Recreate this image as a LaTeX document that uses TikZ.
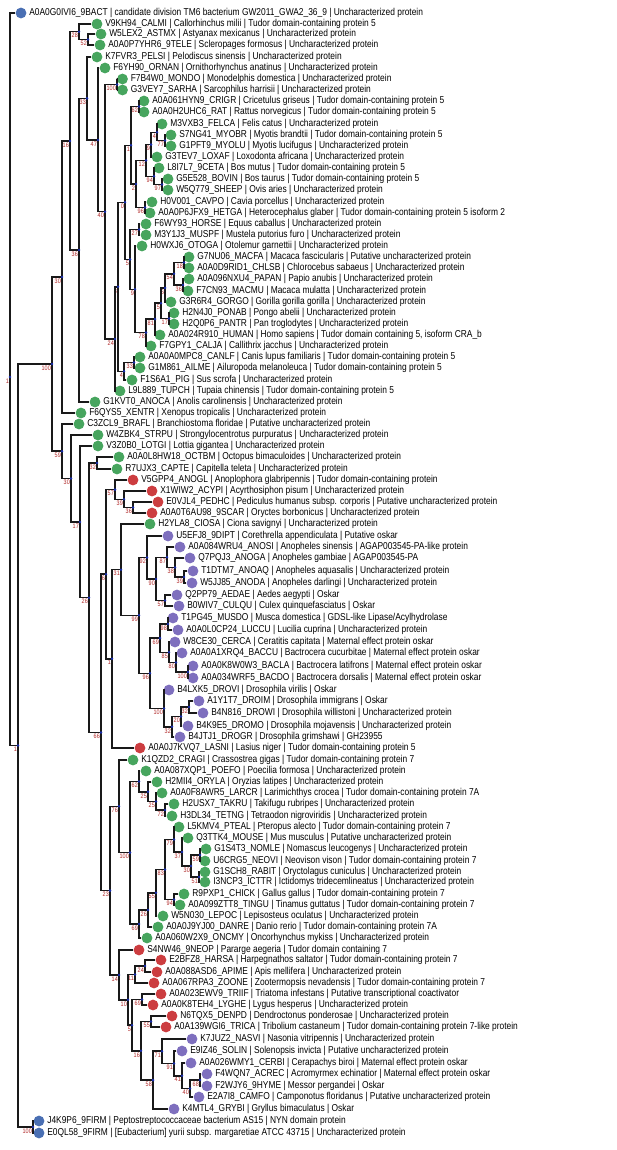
\documentclass[tikz,border=0pt]{standalone}
\usepackage{fontspec}
\setmainfont{Liberation Sans}[FakeStretch=0.84]
\definecolor{tdgreen}{HTML}{47A55E}
\definecolor{tdred}{HTML}{CC3D40}
\definecolor{oskpurple}{HTML}{7E6FBE}
\definecolor{bactblue}{HTML}{4A6FB3}
\definecolor{supred}{HTML}{B02828}
\definecolor{nodeblue}{HTML}{1A2FB0}
\newcommand{\leafnode}[5]{\node[leafdot,fill=#4] (#1) at (#2,#3) {};
  \node[leaftext] (#1t) at (#1.east) {#5};}
\newcommand{\inode}[4]{\coordinate (#1) at (#2,#3);
  \node[bsup] (#1s) at (#1) {#4};}
\newcommand{\kids}[3]{\draw[branch] (#2) -| (#1) |- (#3);
  \fill[nodeblue] (#1) circle (1.4pt);}
\begin{document}
\begin{tikzpicture}[x=1pt, y=-1pt,
    leafdot/.style = {circle, inner sep=0pt, minimum size=10.8pt},
    leaftext/.style = {anchor=west, inner sep=0pt, xshift=2.5pt,
        font=\fontsize{10}{12}\selectfont},
    bsup/.style = {anchor=north east, inner sep=0pt, xshift=-1pt, yshift=-1.5pt,
        text=supred, font=\fontsize{6.5}{7}\selectfont},
    branch/.style = {line width=1.5pt, black!90}]
\useasboundingbox (0,0) rectangle (617,1150);
\leafnode{bact}{21}{13}{bactblue}{A0A0G0IVI6\_9BACT | candidate division TM6 bacterium GW2011\_GWA2\_36\_9 | Uncharacterized protein}
\leafnode{calmi}{97}{24}{tdgreen}{V9KH94\_CALMI | Callorhinchus milii | Tudor domain-containing protein 5}
\leafnode{astmx}{101}{34}{tdgreen}{W5LEX2\_ASTMX | Astyanax mexicanus | Uncharacterized protein}
\leafnode{tele}{100}{45}{tdgreen}{A0A0P7YHR6\_9TELE | Scleropages formosus | Uncharacterized protein}
\leafnode{pelsi}{97}{57}{tdgreen}{K7FVR3\_PELSI | Pelodiscus sinensis | Uncharacterized protein}
\leafnode{ornan}{105}{68}{tdgreen}{F6YH90\_ORNAN | Ornithorhynchus anatinus | Uncharacterized protein}
\leafnode{mondo}{122.5}{79}{tdgreen}{F7B4W0\_MONDO | Monodelphis domestica | Uncharacterized protein}
\leafnode{sarha}{122.5}{90}{tdgreen}{G3VEY7\_SARHA | Sarcophilus harrisii | Uncharacterized protein}
\leafnode{crigr}{144}{101}{tdgreen}{A0A061HYN9\_CRIGR | Cricetulus griseus | Tudor domain-containing protein 5}
\leafnode{rat}{144}{112}{tdgreen}{A0A0H2UHC6\_RAT | Rattus norvegicus | Tudor domain-containing protein 5}
\leafnode{felca}{162}{124}{tdgreen}{M3VXB3\_FELCA | Felis catus | Uncharacterized protein}
\leafnode{myobr}{171}{135}{tdgreen}{S7NG41\_MYOBR | Myotis brandtii | Tudor domain-containing protein 5}
\leafnode{myolu}{171}{146}{tdgreen}{G1PFT9\_MYOLU | Myotis lucifugus | Uncharacterized protein}
\leafnode{loxaf}{157}{157}{tdgreen}{G3TEV7\_LOXAF | Loxodonta africana | Uncharacterized protein}
\leafnode{ceta}{159}{168}{tdgreen}{L8I7L7\_9CETA | Bos mutus | Tudor domain-containing protein 5}
\leafnode{bovin}{168}{179}{tdgreen}{G5E528\_BOVIN | Bos taurus | Tudor domain-containing protein 5}
\leafnode{sheep}{168}{190}{tdgreen}{W5Q779\_SHEEP | Ovis aries | Uncharacterized protein}
\leafnode{cavpo}{152}{202}{tdgreen}{H0V001\_CAVPO | Cavia porcellus | Uncharacterized protein}
\leafnode{hetga}{150}{213}{tdgreen}{A0A0P6JFX9\_HETGA | Heterocephalus glaber | Tudor domain-containing protein 5 isoform 2}
\leafnode{horse}{146}{224}{tdgreen}{F6WY93\_HORSE | Equus caballus | Uncharacterized protein}
\leafnode{muspf}{146}{235}{tdgreen}{M3Y1J3\_MUSPF | Mustela putorius furo | Uncharacterized protein}
\leafnode{otoga}{142}{246}{tdgreen}{H0WXJ6\_OTOGA | Otolemur garnettii | Uncharacterized protein}
\leafnode{macfa}{189}{257}{tdgreen}{G7NU06\_MACFA | Macaca fascicularis | Putative uncharacterized protein}
\leafnode{chlsb}{189}{268}{tdgreen}{A0A0D9RID1\_CHLSB | Chlorocebus sabaeus | Uncharacterized protein}
\leafnode{papan}{189}{279}{tdgreen}{A0A096NXU4\_PAPAN | Papio anubis | Uncharacterized protein}
\leafnode{macmu}{188}{291}{tdgreen}{F7CN93\_MACMU | Macaca mulatta | Uncharacterized protein}
\leafnode{gorgo}{171}{302}{tdgreen}{G3R6R4\_GORGO | Gorilla gorilla gorilla | Uncharacterized protein}
\leafnode{ponab}{174}{313}{tdgreen}{H2N4J0\_PONAB | Pongo abelii | Uncharacterized protein}
\leafnode{pantr}{174}{324}{tdgreen}{H2Q0P6\_PANTR | Pan troglodytes | Uncharacterized protein}
\leafnode{human}{160}{335}{tdgreen}{A0A024R910\_HUMAN | Homo sapiens | Tudor domain containing 5, isoform CRA\_b}
\leafnode{calja}{151}{346}{tdgreen}{F7GPY1\_CALJA | Callithrix jacchus | Uncharacterized protein}
\leafnode{canlf}{140}{357}{tdgreen}{A0A0A0MPC8\_CANLF | Canis lupus familiaris | Tudor domain-containing protein 5}
\leafnode{ailme}{140}{368}{tdgreen}{G1M861\_AILME | Ailuropoda melanoleuca | Tudor domain-containing protein 5}
\leafnode{pig}{132}{380}{tdgreen}{F1S6A1\_PIG | Sus scrofa | Uncharacterized protein}
\leafnode{tupch}{120}{391}{tdgreen}{L9L889\_TUPCH | Tupaia chinensis | Tudor domain-containing protein 5}
\leafnode{anoca}{95}{402}{tdgreen}{G1KVT0\_ANOCA | Anolis carolinensis | Uncharacterized protein}
\leafnode{xentr}{81}{413}{tdgreen}{F6QYS5\_XENTR | Xenopus tropicalis | Uncharacterized protein}
\leafnode{brafl}{79}{424}{tdgreen}{C3ZCL9\_BRAFL | Branchiostoma floridae | Putative uncharacterized protein}
\leafnode{strpu}{98}{435}{tdgreen}{W4ZBK4\_STRPU | Strongylocentrotus purpuratus | Uncharacterized protein}
\leafnode{lotgi}{98}{446}{tdgreen}{V3Z0B0\_LOTGI | Lottia gigantea | Uncharacterized protein}
\leafnode{octbm}{119}{457}{tdgreen}{A0A0L8HW18\_OCTBM | Octopus bimaculoides | Uncharacterized protein}
\leafnode{capte}{117}{469}{tdgreen}{R7UJX3\_CAPTE | Capitella teleta | Uncharacterized protein}
\leafnode{anogl}{133}{480}{tdred}{V5GPP4\_ANOGL | Anoplophora glabripennis | Tudor domain-containing protein}
\leafnode{acypi}{152}{491}{tdred}{X1WIW2\_ACYPI | Acyrthosiphon pisum | Uncharacterized protein}
\leafnode{pedhc}{158}{502}{tdred}{E0VJL4\_PEDHC | Pediculus humanus subsp. corporis | Putative uncharacterized protein}
\leafnode{scar}{152}{513}{tdred}{A0A0T6AU98\_9SCAR | Oryctes borbonicus | Uncharacterized protein}
\leafnode{ciosa}{150}{524}{tdgreen}{H2YLA8\_CIOSA | Ciona savignyi | Uncharacterized protein}
\leafnode{dipt}{168}{536}{oskpurple}{U5EFJ8\_9DIPT | Corethrella appendiculata | Putative oskar}
\leafnode{anosi}{180}{547}{oskpurple}{A0A084WRU4\_ANOSI | Anopheles sinensis | AGAP003545-PA-like protein}
\leafnode{anoga}{190}{558}{oskpurple}{Q7PQJ3\_ANOGA | Anopheles gambiae | AGAP003545-PA}
\leafnode{anoaq}{193}{571}{oskpurple}{T1DTM7\_ANOAQ | Anopheles aquasalis | Uncharacterized protein}
\leafnode{anoda}{192}{583}{oskpurple}{W5JJ85\_ANODA | Anopheles darlingi | Uncharacterized protein}
\leafnode{aedae}{177}{595}{oskpurple}{Q2PP79\_AEDAE | Aedes aegypti | Oskar}
\leafnode{culqu}{179}{606}{oskpurple}{B0WIV7\_CULQU | Culex quinquefasciatus | Oskar}
\leafnode{musdo}{173}{618}{oskpurple}{T1PG45\_MUSDO | Musca domestica | GDSL-like Lipase/Acylhydrolase}
\leafnode{luccu}{178}{630}{oskpurple}{A0A0L0CP24\_LUCCU | Lucilia cuprina | Uncharacterized protein}
\leafnode{cerca}{175}{642}{oskpurple}{W8CE30\_CERCA | Ceratitis capitata | Maternal effect protein oskar}
\leafnode{baccu}{182}{653}{oskpurple}{A0A0A1XRQ4\_BACCU | Bactrocera cucurbitae | Maternal effect protein oskar}
\leafnode{bacla}{193}{666}{oskpurple}{A0A0K8W0W3\_BACLA | Bactrocera latifrons | Maternal effect protein oskar}
\leafnode{bacdo}{193}{678}{oskpurple}{A0A034WRF5\_BACDO | Bactrocera dorsalis | Maternal effect protein oskar}
\leafnode{drovi}{169}{690}{oskpurple}{B4LXK5\_DROVI | Drosophila virilis | Oskar}
\leafnode{droim}{199}{701}{oskpurple}{A1Y1T7\_DROIM | Drosophila immigrans | Oskar}
\leafnode{drowi}{203}{713}{oskpurple}{B4N816\_DROWI | Drosophila willistoni | Uncharacterized protein}
\leafnode{dromo}{188}{726}{oskpurple}{B4K9E5\_DROMO | Drosophila mojavensis | Uncharacterized protein}
\leafnode{drogr}{180}{737}{oskpurple}{B4JTJ1\_DROGR | Drosophila grimshawi | GH23955}
\leafnode{lasni}{140}{748}{tdred}{A0A0J7KVQ7\_LASNI | Lasius niger | Tudor domain-containing protein 5}
\leafnode{cragi}{133}{760}{tdgreen}{K1QZD2\_CRAGI | Crassostrea gigas | Tudor domain-containing protein 7}
\leafnode{poefo}{146}{771}{tdgreen}{A0A087XQP1\_POEFO | Poecilia formosa | Uncharacterized protein}
\leafnode{oryla}{157}{782}{tdgreen}{H2MII4\_ORYLA | Oryzias latipes | Uncharacterized protein}
\leafnode{larcr}{162}{793}{tdgreen}{A0A0F8AWR5\_LARCR | Larimichthys crocea | Tudor domain-containing protein 7A}
\leafnode{takru}{174}{804}{tdgreen}{H2USX7\_TAKRU | Takifugu rubripes | Uncharacterized protein}
\leafnode{tetng}{172}{816}{tdgreen}{H3DL34\_TETNG | Tetraodon nigroviridis | Uncharacterized protein}
\leafnode{pteal}{179}{827}{tdgreen}{L5KMV4\_PTEAL | Pteropus alecto | Tudor domain-containing protein 7}
\leafnode{mouse}{188}{838}{tdgreen}{Q3TTK4\_MOUSE | Mus musculus | Putative uncharacterized protein}
\leafnode{nomle}{206}{849}{tdgreen}{G1S4T3\_NOMLE | Nomascus leucogenys | Uncharacterized protein}
\leafnode{neovi}{205}{861}{tdgreen}{U6CRG5\_NEOVI | Neovison vison | Tudor domain-containing protein 7}
\leafnode{rabit}{205}{872}{tdgreen}{G1SCH8\_RABIT | Oryctolagus cuniculus | Uncharacterized protein}
\leafnode{icttr}{205}{882}{tdgreen}{I3NCP3\_ICTTR | Ictidomys tridecemlineatus | Uncharacterized protein}
\leafnode{chick}{184}{894}{tdgreen}{R9PXP1\_CHICK | Gallus gallus | Tudor domain-containing protein 7}
\leafnode{tingu}{180}{905}{tdgreen}{A0A099ZTT8\_TINGU | Tinamus guttatus | Tudor domain-containing protein 7}
\leafnode{lepoc}{163}{916}{tdgreen}{W5N030\_LEPOC | Lepisosteus oculatus | Uncharacterized protein}
\leafnode{danre}{158}{927}{tdgreen}{A0A0J9YJ00\_DANRE | Danio rerio | Tudor domain-containing protein 7A}
\leafnode{oncmy}{147}{938}{tdgreen}{A0A060W2X9\_ONCMY | Oncorhynchus mykiss | Uncharacterized protein}
\leafnode{neop}{139}{950}{tdred}{S4NW46\_9NEOP | Pararge aegeria | Tudor domain containing 7}
\leafnode{harsa}{161}{960}{tdred}{E2BFZ8\_HARSA | Harpegnathos saltator | Tudor domain-containing protein 7}
\leafnode{apime}{157}{972}{tdred}{A0A088ASD6\_APIME | Apis mellifera | Uncharacterized protein}
\leafnode{zoone}{154}{983}{tdred}{A0A067RPA3\_ZOONE | Zootermopsis nevadensis | Tudor domain-containing protein 7}
\leafnode{triif}{161}{994}{tdred}{A0A023EWV9\_TRIIF | Triatoma infestans | Putative transcriptional coactivator}
\leafnode{lyghe}{153}{1005}{tdred}{A0A0K8TEH4\_LYGHE | Lygus hesperus | Uncharacterized protein}
\leafnode{denpd}{172}{1016}{tdred}{N6TQX5\_DENPD | Dendroctonus ponderosae | Uncharacterized protein}
\leafnode{trica}{166}{1027}{tdred}{A0A139WGI6\_TRICA | Tribolium castaneum | Tudor domain-containing protein 7-like protein}
\leafnode{nasvi}{192}{1039}{oskpurple}{K7JUZ2\_NASVI | Nasonia vitripennis | Uncharacterized protein}
\leafnode{solin}{182}{1051}{oskpurple}{E9IZ46\_SOLIN | Solenopsis invicta | Putative uncharacterized protein}
\leafnode{cerbi}{191}{1063}{oskpurple}{A0A026WMY1\_CERBI | Cerapachys biroi | Maternal effect protein oskar}
\leafnode{acrec}{207}{1074}{oskpurple}{F4WQN7\_ACREC | Acromyrmex echinatior | Maternal effect protein oskar}
\leafnode{hyme}{207}{1086}{oskpurple}{F2WJY6\_9HYME | Messor pergandei | Oskar}
\leafnode{camfo}{199}{1097}{oskpurple}{E2A7I8\_CAMFO | Camponotus floridanus | Putative uncharacterized protein}
\leafnode{grybi}{174}{1109}{oskpurple}{K4MTL4\_GRYBI | Gryllus bimaculatus | Oskar}
\leafnode{firma}{39}{1121}{bactblue}{J4K9P6\_9FIRM | Peptostreptococcaceae bacterium AS15 | NYN domain protein}
\leafnode{firmb}{39}{1133}{bactblue}{E0QL58\_9FIRM | [Eubacterium] yurii subsp. margaretiae ATCC 43715 | Uncharacterized protein}
\inode{root}{10}{377}{1}
\inode{nA}{18}{745.5}{1}
\inode{nOut}{33}{1127}{100}
\inode{n100a}{52}{364}{100}
\inode{n30a}{62}{277}{30}
\inode{n16a}{70}{141}{16}
\inode{n28}{79}{31.75}{28}
\inode{n52}{88}{39.5}{52}
\inode{n36a}{79}{250}{36}
\inode{n33a}{87}{98.4}{33}
\inode{n47}{98}{140}{47}
\inode{n40a}{105}{211.7}{40}
\inode{n100b}{117}{84.5}{100}
\inode{n24a}{115}{339}{24}
\inode{n3a}{118}{286.8}{3}
\inode{n4a}{124}{371.3}{4}
\inode{n33b}{134}{362.5}{33}
\inode{n0a}{125}{202.3}{0}
\inode{n1a}{131}{145.3}{1}
\inode{n62a}{139}{106.5}{62}
\inode{n2a}{136}{184}{2}
\inode{n12a}{146}{160.4}{12}
\inode{n9a}{151}{144.6}{9}
\inode{n4b}{157}{132.3}{4}
\inode{n77a}{165}{140.5}{77}
\inode{n94a}{154}{176.3}{94}
\inode{n97a}{162}{184.5}{97}
\inode{n96a}{145}{207.5}{96}
\inode{n5a}{130}{259.4}{5}
\inode{n27a}{139}{229.5}{27}
\inode{n9b}{135}{289.3}{9}
\inode{n78a}{146}{332.6}{78}
\inode{n81a}{155}{319.1}{81}
\inode{n5b}{161}{303.2}{5}
\inode{n6a}{165}{287.9}{6}
\inode{n17a}{169}{318.5}{17}
\inode{n54a}{174}{273.8}{54}
\inode{n18a}{184}{262.5}{18}
\inode{n36b}{183}{285}{36}
\inode{n59a}{62}{451.2}{59}
\inode{n30b}{71}{478.4}{30}
\inode{n17b}{80}{521.9}{17}
\inode{n26a}{89}{597.7}{26}
\inode{n32a}{97}{463}{32}
\inode{n66a}{101}{732.4}{66}
\inode{n6b}{106}{574.2}{6}
\inode{n57a}{115}{489.6}{57}
\inode{n39a}{124}{499.3}{39}
\inode{n36c}{133}{507.5}{36}
\inode{n1b}{112}{658.8}{1}
\inode{n31a}{121}{569.7}{31}
\inode{n99a}{139}{615.3}{99}
\inode{n92a}{147}{557.4}{92}
\inode{n90a}{156}{578.9}{90}
\inode{n87a}{167}{557.3}{87}
\inode{n38a}{175}{567.5}{38}
\inode{n39b}{184}{577}{39}
\inode{n57b}{165}{600.5}{57}
\inode{n96b}{150}{673.3}{96}
\inode{n69a}{160}{638.1}{69}
\inode{n98a}{168}{624}{98}
\inode{n85a}{169}{652.3}{85}
\inode{n80a}{176}{662.5}{80}
\inode{n100d}{188}{672}{100}
\inode{n100c}{164}{708.4}{100}
\inode{n32c}{172}{726.8}{32}
\inode{n20a}{181}{716.5}{20}
\inode{n32d}{189}{707}{32}
\inode{n23a}{110}{890.6}{23}
\inode{n76a}{119}{806.3}{76}
\inode{n100e}{130}{852.6}{100}
\inode{n62b}{139}{781.4}{62}
\inode{n25a}{148}{791.8}{25}
\inode{n25b}{156}{801.5}{25}
\inode{n72a}{165}{810}{72}
\inode{n69c}{139}{923.9}{69}
\inode{n26c}{148}{909.9}{26}
\inode{n55a}{156}{892.8}{55}
\inode{n83a}{165}{869.5}{83}
\inode{n79a}{174}{839.5}{79}
\inode{n37a}{182}{852}{37}
\inode{n30c}{191}{866}{30}
\inode{n59b}{200}{855}{59}
\inode{n51a}{199}{877}{51}
\inode{n94b}{174}{899.5}{94}
\inode{n14a}{119}{974.9}{14}
\inode{n10a}{128}{999.8}{10}
\inode{n11a}{135}{974.5}{11}
\inode{n24b}{145}{966}{24}
\inode{n5c}{132}{1025.2}{5}
\inode{n69d}{142}{999.5}{69}
\inode{n16c}{141}{1050.8}{16}
\inode{n55b}{151}{1021.5}{55}
\inode{n58a}{153}{1080.1}{58}
\inode{n71a}{162}{1051.2}{71}
\inode{n91a}{174}{1063.4}{91}
\inode{n41a}{182}{1075.8}{41}
\inode{n40c}{190}{1088.5}{40}
\inode{n68a}{200}{1080}{68}
\kids{root}{bact}{nA}
\kids{nA}{n100a}{nOut}
\kids{nOut}{firma}{firmb}
\kids{n100a}{n30a}{n59a}
\kids{n30a}{n16a}{xentr}
\kids{n16a}{n28}{n36a}
\kids{n28}{calmi}{n52}
\kids{n52}{astmx}{tele}
\kids{n36a}{n33a}{anoca}
\kids{n33a}{pelsi}{n47}
\kids{n47}{ornan}{n40a}
\kids{n40a}{n100b}{n24a}
\kids{n100b}{mondo}{sarha}
\kids{n24a}{n3a}{tupch}
\kids{n3a}{n0a}{n4a}
\kids{n4a}{n33b}{pig}
\kids{n33b}{canlf}{ailme}
\kids{n0a}{n1a}{n5a}
\kids{n1a}{n62a}{n2a}
\kids{n62a}{crigr}{rat}
\kids{n2a}{n12a}{n96a}
\kids{n12a}{n9a}{n94a}
\kids{n9a}{n4b}{loxaf}
\kids{n4b}{felca}{n77a}
\kids{n77a}{myobr}{myolu}
\kids{n94a}{ceta}{n97a}
\kids{n97a}{bovin}{sheep}
\kids{n96a}{cavpo}{hetga}
\kids{n5a}{n27a}{n9b}
\kids{n27a}{horse}{muspf}
\kids{n9b}{otoga}{n78a}
\kids{n78a}{n81a}{calja}
\kids{n81a}{n5b}{human}
\kids{n5b}{n6a}{n17a}
\kids{n6a}{n54a}{gorgo}
\kids{n54a}{n18a}{n36b}
\kids{n18a}{macfa}{chlsb}
\kids{n36b}{papan}{macmu}
\kids{n17a}{ponab}{pantr}
\kids{n59a}{brafl}{n30b}
\kids{n30b}{strpu}{n17b}
\kids{n17b}{lotgi}{n26a}
\kids{n26a}{n32a}{n66a}
\kids{n32a}{octbm}{capte}
\kids{n66a}{n6b}{n23a}
\kids{n6b}{n57a}{n1b}
\kids{n57a}{anogl}{n39a}
\kids{n39a}{acypi}{n36c}
\kids{n36c}{pedhc}{scar}
\kids{n1b}{n31a}{lasni}
\kids{n31a}{ciosa}{n99a}
\kids{n99a}{n92a}{n96b}
\kids{n92a}{dipt}{n90a}
\kids{n90a}{n87a}{n57b}
\kids{n87a}{anosi}{n38a}
\kids{n38a}{anoga}{n39b}
\kids{n39b}{anoaq}{anoda}
\kids{n57b}{aedae}{culqu}
\kids{n96b}{n69a}{n100c}
\kids{n69a}{n98a}{n85a}
\kids{n98a}{musdo}{luccu}
\kids{n85a}{cerca}{n80a}
\kids{n80a}{baccu}{n100d}
\kids{n100d}{bacla}{bacdo}
\kids{n100c}{drovi}{n32c}
\kids{n32c}{n20a}{drogr}
\kids{n20a}{n32d}{dromo}
\kids{n32d}{droim}{drowi}
\kids{n23a}{n76a}{n14a}
\kids{n76a}{cragi}{n100e}
\kids{n100e}{n62b}{n69c}
\kids{n62b}{poefo}{n25a}
\kids{n25a}{oryla}{n25b}
\kids{n25b}{larcr}{n72a}
\kids{n72a}{takru}{tetng}
\kids{n69c}{n26c}{oncmy}
\kids{n26c}{n55a}{danre}
\kids{n55a}{n83a}{lepoc}
\kids{n83a}{n79a}{n94b}
\kids{n79a}{pteal}{n37a}
\kids{n37a}{mouse}{n30c}
\kids{n30c}{n59b}{n51a}
\kids{n59b}{nomle}{neovi}
\kids{n51a}{rabit}{icttr}
\kids{n94b}{chick}{tingu}
\kids{n14a}{neop}{n10a}
\kids{n10a}{n11a}{n5c}
\kids{n11a}{n24b}{zoone}
\kids{n24b}{harsa}{apime}
\kids{n5c}{n69d}{n16c}
\kids{n69d}{triif}{lyghe}
\kids{n16c}{n55b}{n58a}
\kids{n55b}{denpd}{trica}
\kids{n58a}{n71a}{grybi}
\kids{n71a}{nasvi}{n91a}
\kids{n91a}{solin}{n41a}
\kids{n41a}{cerbi}{n40c}
\kids{n40c}{n68a}{camfo}
\kids{n68a}{acrec}{hyme}
\end{tikzpicture}
\end{document}
